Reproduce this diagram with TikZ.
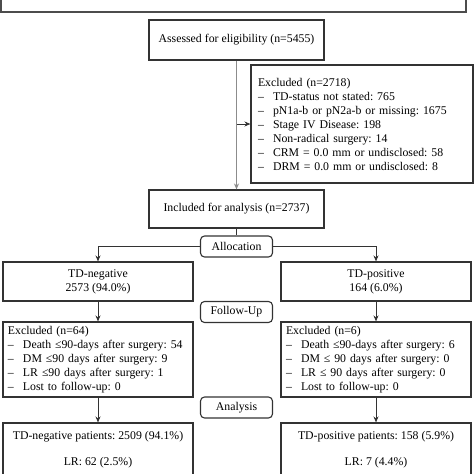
\documentclass[tikz,border=0pt]{standalone}
\usepackage{fontspec}
\setmainfont{Liberation Serif}
\usetikzlibrary{arrows.meta}
\frenchspacing
\newcommand\myitem[1]{\makebox[15pt][l]{–}#1}
\begin{document}
\begin{tikzpicture}[x=1pt,y=-1pt,
  box/.style={draw=black!80, line width=1.1pt, rectangle, inner sep=0pt, font=\fontsize{11.8}{14}\selectfont},
  rbox/.style={box, rounded corners=4pt, minimum width=72pt, minimum height=21pt},
  conn/.style={draw=black!80, line width=1pt, -{Stealth[length=6pt,width=5pt]}},
  link/.style={draw=black!80, line width=1pt},
  ]
\useasboundingbox (0,0) rectangle (474,474);
\node[box, draw=black!70, minimum width=465pt, minimum height=26pt] (top) at (233.5,-1) {};
\node[box, minimum width=175pt, minimum height=40pt] (assess) at (236.5,40) {Assessed for eligibility (n=5455)};
\node[box, minimum width=222pt, minimum height=118pt, text width=208pt, align=left] (excl) at (362,124)
  {Excluded (n=2718)\\
   \myitem{TD-status not stated: 765}\\
   \myitem{pN1a-b or pN2a-b or missing: 1675}\\
   \myitem{Stage IV Disease: 198}\\
   \myitem{Non-radical surgery: 14}\\
   \myitem{CRM = 0.0 mm or undisclosed: 58}\\
   \myitem{DRM = 0.0 mm or undisclosed: 8}};
\node[box, minimum width=175pt, minimum height=38pt] (incl) at (236.5,209) {Included for analysis (n=2737)};
\node[rbox] (alloc) at (236.5,246.5) {Allocation};
\node[box, minimum width=190pt, minimum height=39pt, align=center] (tdneg) at (98,281.5) {TD-negative\\2573 (94.0\%)};
\node[box, minimum width=190pt, minimum height=39pt, align=center] (tdpos) at (376,281.5) {TD-positive\\164 (6.0\%)};
\node[rbox] (follow) at (236.5,312) {Follow-Up};
\node[box, minimum width=190pt, minimum height=75pt, text width=180pt, align=left] (exneg) at (98,359.5)
  {Excluded (n=64)\\
   \myitem{Death ≤90-days after surgery: 54}\\
   \myitem{DM ≤90 days after surgery: 9}\\
   \myitem{LR ≤90 days after surgery: 1}\\
   \myitem{Lost to follow-up: 0}};
\node[box, minimum width=190pt, minimum height=75pt, text width=180pt, align=left] (expos) at (376,359.5)
  {Excluded (n=6)\\
   \myitem{Death ≤90-days after surgery: 6}\\
   \myitem{DM ≤ 90 days after surgery: 0}\\
   \myitem{LR ≤ 90 days after surgery: 0}\\
   \myitem{Lost to follow-up: 0}};
\node[rbox] (anal) at (236.5,407.5) {Analysis};
\node[box, minimum width=190pt, minimum height=54pt, align=center] (resneg) at (98,450) {TD-negative patients: 2509 (94.1\%)\\[12pt]LR: 62 (2.5\%)};
\node[box, minimum width=190pt, minimum height=54pt, align=center] (respos) at (376,450) {TD-positive patients: 158 (5.9\%)\\[12pt]LR: 7 (4.4\%)};
\coordinate (j1) at (assess.south |- excl.west);
\draw[conn, draw=black!45, line width=1.2pt] (assess.south) -- (incl.north);
\draw[conn] (j1) -- (excl.west);
\draw[link] (incl.south) -- (alloc.north);
\draw[conn] (alloc.west) -| (tdneg.north);
\draw[conn] (alloc.east) -| (tdpos.north);
\draw[conn] (tdneg.south) -- (exneg.north);
\draw[conn] (tdpos.south) -- (expos.north);
\draw[conn] (exneg.south) -- (resneg.north);
\draw[conn] (expos.south) -- (respos.north);
\end{tikzpicture}
\end{document}
